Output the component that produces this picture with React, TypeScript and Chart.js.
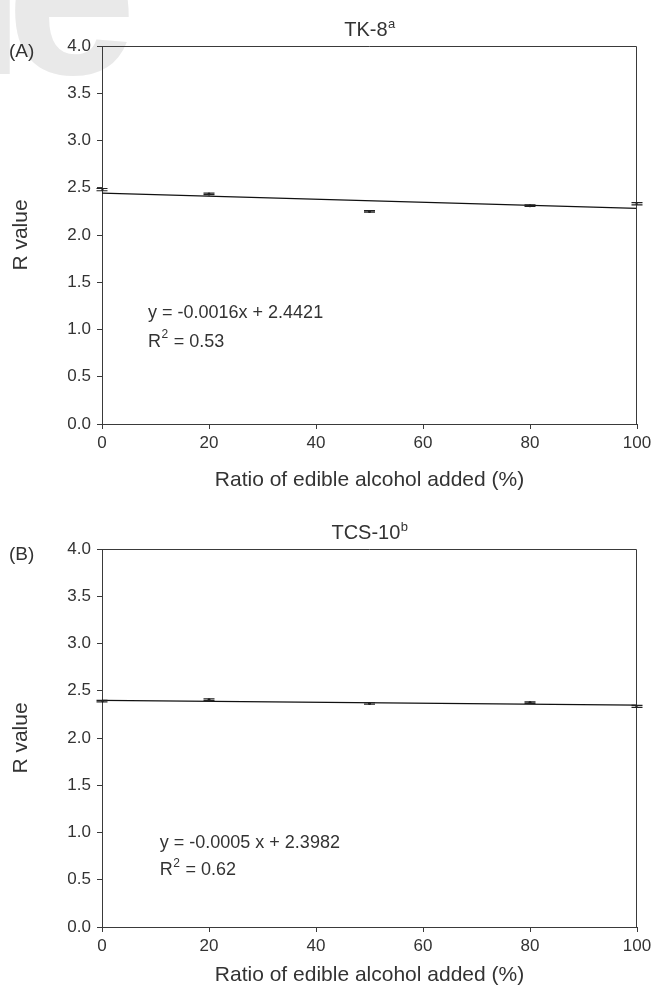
import React, { useEffect, useRef } from "react";
import { Chart, registerables } from "chart.js";

Chart.register(...registerables);

// ---- data ----
const ratios = [0, 20, 50, 80, 100];
const tk8Values = [2.48, 2.435, 2.25, 2.31, 2.33];
const tk8Errors = [0.012, 0.008, 0.008, 0.008, 0.012];
const tk8Fit = [-0.0016, 2.4421]; // slope, intercept
const tk8Equation = ["y = -0.0016x + 2.4421", "0.53"];

const tcs10Values = [2.39, 2.405, 2.365, 2.375, 2.335];
const tcs10Errors = [0.008, 0.01, 0.008, 0.008, 0.01];
const tcs10Fit = [-0.0005, 2.3982];
const tcs10Equation = ["y = -0.0005 x + 2.3982", "0.62"];

const yTicks = [0, 0.5, 1, 1.5, 2, 2.5, 3, 3.5, 4];
const xTicks = [0, 20, 40, 60, 80, 100];

const FONT = "'Liberation Sans', Arial, Helvetica, sans-serif";
const TEXT = "#333";
const AXIS = "#3a3a3a";

type PanelProps = {
  top: number;
  height: number;
  panelLabel: string;
  titleMain: string;
  titleSup: string;
  values: number[];
  errors: number[];
  fit: number[];
  equation: string[];
  eqPos: number[]; // data x, data y of first line, data y of second line
  watermark?: boolean;
};

function Panel(p: PanelProps) {
  const ref = useRef<HTMLCanvasElement | null>(null);
  useEffect(() => {
    const canvas = ref.current!;
    const plotTop = 46;
    const plotBottom = 424;
    const plotLeft = 102;
    const plotRight = 637;

    const overlay = {
      id: "overlay",
      beforeDraw(chart: any) {
        if (!p.watermark) return;
        const ctx = chart.ctx;
        ctx.save();
        ctx.fillStyle = "#e9e9e9";
        ctx.font = `bold 235px ${FONT}`;
        ctx.textBaseline = "alphabetic";
        ctx.textAlign = "left";
        ctx.fillText("l", -39, 74);
        ctx.fillText("e", 6, 74);
        ctx.restore();
      },
      afterDatasetsDraw(chart: any) {
        const ctx = chart.ctx;
        const xs = chart.scales.x;
        const ys = chart.scales.y;
        const ca = chart.chartArea;
        ctx.save();
        // frame top & right
        ctx.strokeStyle = AXIS;
        ctx.lineWidth = 1;
        ctx.beginPath();
        ctx.moveTo(ca.left, ca.top + 0.5);
        ctx.lineTo(ca.right - 0.5, ca.top + 0.5);
        ctx.lineTo(ca.right - 0.5, ca.bottom);
        ctx.stroke();
        // error bars
        ctx.strokeStyle = "#222";
        ctx.lineWidth = 1.2;
        p.values.forEach((v, i) => {
          const px = xs.getPixelForValue(ratios[i]);
          const y1 = ys.getPixelForValue(v + p.errors[i]);
          const y2 = ys.getPixelForValue(v - p.errors[i]);
          ctx.beginPath();
          ctx.moveTo(px, y1);
          ctx.lineTo(px, y2);
          ctx.moveTo(px - 5.5, y1);
          ctx.lineTo(px + 5.5, y1);
          ctx.moveTo(px - 5.5, y2);
          ctx.lineTo(px + 5.5, y2);
          ctx.stroke();
        });
        ctx.restore();
      },
      afterDraw(chart: any) {
        const ctx = chart.ctx;
        const xs = chart.scales.x;
        const ys = chart.scales.y;
        const ca = chart.chartArea;
        ctx.save();
        ctx.fillStyle = TEXT;
        // title with superscript
        ctx.textBaseline = "alphabetic";
        ctx.font = `20px ${FONT}`;
        const mainW = ctx.measureText(p.titleMain).width;
        ctx.font = `13px ${FONT}`;
        const supW = ctx.measureText(p.titleSup).width;
        const cx = (ca.left + ca.right) / 2;
        const startX = cx - (mainW + supW) / 2;
        ctx.font = `20px ${FONT}`;
        ctx.textAlign = "left";
        ctx.fillText(p.titleMain, startX, 36);
        ctx.font = `13px ${FONT}`;
        ctx.fillText(p.titleSup, startX + mainW + 0.5, 28);
        // panel label
        ctx.font = `19px ${FONT}`;
        ctx.fillText(p.panelLabel, 9, 57);
        // equation
        const ex = xs.getPixelForValue(p.eqPos[0]);
        ctx.font = `18px ${FONT}`;
        ctx.textBaseline = "middle";
        ctx.fillText(p.equation[0], ex, ys.getPixelForValue(p.eqPos[1]));
        const ry = ys.getPixelForValue(p.eqPos[2]);
        ctx.fillText("R", ex, ry);
        const rW = ctx.measureText("R").width;
        ctx.font = `12px ${FONT}`;
        ctx.fillText("2", ex + rW + 0.5, ry - 7);
        const twoW = ctx.measureText("2").width;
        ctx.font = `18px ${FONT}`;
        ctx.fillText(" = " + p.equation[1], ex + rW + twoW + 1, ry);
        ctx.restore();
      },
    };

    const chart = new Chart(canvas, {
      type: "scatter",
      data: {
        datasets: [
          {
            type: "line",
            label: "fit",
            data: [
              { x: ratios[0], y: p.fit[0] * ratios[0] + p.fit[1] },
              { x: ratios[ratios.length - 1], y: p.fit[0] * ratios[ratios.length - 1] + p.fit[1] },
            ],
            borderColor: "#111",
            borderWidth: 1.3,
            pointRadius: 0,
            fill: false,
          } as any,
          {
            type: "scatter",
            label: "R value",
            data: ratios.map((x, i) => ({ x, y: p.values[i] })),
            backgroundColor: "#111",
            borderColor: "#111",
            pointRadius: 1.5,
            borderWidth: 0,
          },
        ],
      },
      options: {
        responsive: false,
        animation: false,
        events: [],
        layout: { padding: { left: 0, right: 651 - plotRight, top: plotTop, bottom: 0 } },
        plugins: { legend: { display: false }, tooltip: { enabled: false }, title: { display: false } },
        scales: {
          x: {
            type: "linear",
            min: 0,
            max: 100,
            afterBuildTicks: (s: any) => {
              s.ticks = xTicks.map((v) => ({ value: v }));
            },
            afterFit: (s: any) => {
              s.height = p.height - plotBottom;
              s.paddingLeft = 0;
              s.paddingRight = 0;
            },
            grid: { drawOnChartArea: false, drawTicks: true, tickLength: 5, color: AXIS, tickColor: AXIS },
            border: { display: true, color: AXIS, width: 1 },
            ticks: { color: TEXT, font: { family: FONT, size: 17 }, padding: 4, maxRotation: 0 },
            title: {
              display: true,
              text: "Ratio of edible alcohol added (%)",
              color: TEXT,
              font: { family: FONT, size: 21 },
              padding: { top: 0, bottom: 2 },
            },
          },
          y: {
            type: "linear",
            min: 0,
            max: 4,
            afterBuildTicks: (s: any) => {
              s.ticks = yTicks.map((v) => ({ value: v }));
            },
            afterFit: (s: any) => {
              s.width = plotLeft;
              s.paddingTop = 0;
              s.paddingBottom = 0;
            },
            grid: { drawOnChartArea: false, drawTicks: true, tickLength: 5, color: AXIS, tickColor: AXIS },
            border: { display: true, color: AXIS, width: 1 },
            ticks: {
              color: TEXT,
              font: { family: FONT, size: 17 },
              padding: 6,
              callback: (v: any) => Number(v).toFixed(1),
            },
            title: {
              display: true,
              text: "R value",
              color: TEXT,
              font: { family: FONT, size: 21 },
              padding: { top: 9, bottom: 0 },
            },
          },
        },
      },
      plugins: [overlay],
    } as any);
    return () => chart.destroy();
  }, []);
  return (
    <canvas
      ref={ref}
      width={651}
      height={p.height}
      style={{ position: "absolute", left: 0, top: p.top, width: 651, height: p.height }}
    />
  );
}

export default function App() {
  return (
    <div style={{ position: "absolute", left: 0, top: 0, width: 651, height: 990, background: "#fff" }}>
      <Panel
        top={0}
        height={495}
        panelLabel="(A)"
        titleMain="TK-8"
        titleSup="a"
        values={tk8Values}
        errors={tk8Errors}
        fit={tk8Fit}
        equation={tk8Equation}
        eqPos={[8.6, 1.17, 0.87]}
        watermark={true}
      />
      <Panel
        top={503}
        height={487}
        panelLabel="(B)"
        titleMain="TCS-10"
        titleSup="b"
        values={tcs10Values}
        errors={tcs10Errors}
        fit={tcs10Fit}
        equation={tcs10Equation}
        eqPos={[10.8, 0.89, 0.6]}
      />
    </div>
  );
}
